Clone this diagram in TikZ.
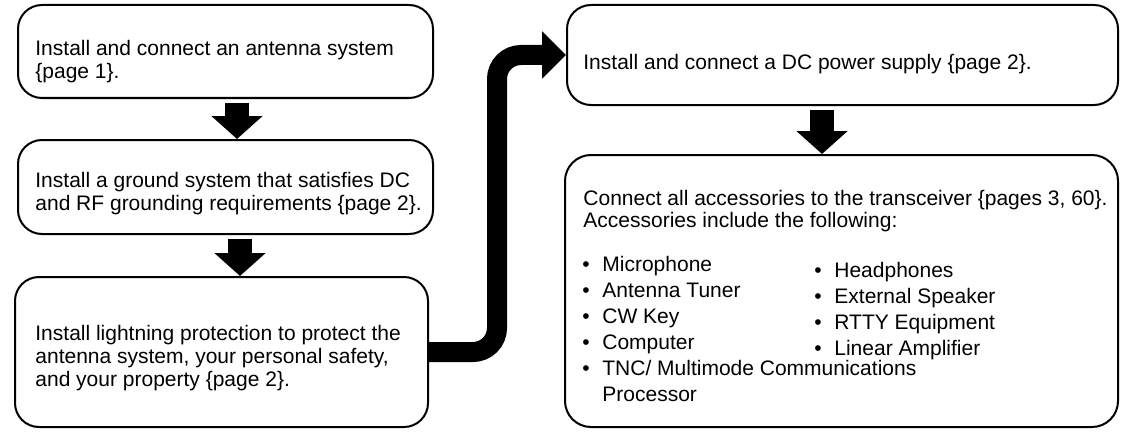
\documentclass[tikz,border=0pt]{standalone}
\usepackage{fontspec}
\setmainfont{Liberation Sans}
\usetikzlibrary{arrows.meta}
\newcommand{\bitem}{\makebox[10pt][l]{\textbullet}}
\begin{document}
\begin{tikzpicture}[x=0.5pt,y=-0.5pt,
  box/.style={draw, line width=1pt, rounded corners=12pt, inner sep=0pt},
  txt/.style={anchor=north west, inner sep=0pt, align=left, font=\fontsize{10.5pt}{11.5pt}\selectfont},
  hdr/.style={txt, font=\fontsize{10.5pt}{10.75pt}\selectfont},
  lst/.style={txt, font=\fontsize{10.5pt}{13pt}\selectfont},
  blockarr/.style={line width=12pt, -{Triangle[length=11.5pt,width=25pt]}},
  bigarr/.style={line width=10pt, rounded corners=12pt, -{Triangle[length=12pt,width=23pt]}}]
\useasboundingbox (0,0) rectangle (1122,433);

% boxes
\node[box, minimum width=207.5pt, minimum height=46.5pt] (b1) at (225.5,51.5) {};
\node[box, minimum width=207.5pt, minimum height=47pt] (b2) at (225.5,187) {};
\node[box, minimum width=206.5pt, minimum height=75pt] (b3) at (221.5,352) {};
\node[box, minimum width=275.5pt, minimum height=50pt] (b4) at (842.5,55) {};
\node[box, rounded corners=13pt, minimum width=276.5pt, minimum height=136pt] (b5) at (841.5,291) {};

% texts
\node[txt] (t1) at (35,40) {Install and connect an antenna system\\\{page 1\}.};
\node[txt] (t2) at (35,172) {Install a ground system that satisfies DC\\and RF grounding requirements \{page 2\}.};
\node[txt] (t3) at (35,325) {Install lightning protection to protect the\\antenna system, your personal safety,\\and your property \{page 2\}.};
\node[txt] (t4) at (583,54) {Install and connect a DC power supply \{page 2\}.};
\node[hdr] (t5) at (583,190) {Connect all accessories to the transceiver \{pages 3, 60\}.\\Accessories include the following:};
\node[lst] (l1) at (582,256) {\bitem Microphone\\\bitem Antenna Tuner\\\bitem CW Key\\\bitem Computer\\\bitem TNC/ Multimode Communications\\\hspace*{10pt}Processor};
\node[lst] (l2) at (814,262) {\bitem Headphones\\\bitem External Speaker\\\bitem RTTY Equipment\\\bitem Linear Amplifier};

% down arrows
\coordinate (a1) at ([xshift=5.75pt,yshift=-2pt]b1.south);
\draw[blockarr] (a1) -- (a1 |- b2.north);
\coordinate (a2) at ([xshift=7.25pt,yshift=-2pt]b2.south);
\draw[blockarr] (a2) -- (a2 |- b3.north);
\coordinate (a3) at ([xshift=-10.25pt,yshift=-2pt]b4.south);
\draw[blockarr] (a3) -- (a3 |- b5.north);

% big connector
\coordinate (mid) at (497,0);
\draw[bigarr] (b3.east) -- (b3.east -| mid) -- (mid |- b4.west) -- (b4.west);
\end{tikzpicture}
\end{document}
